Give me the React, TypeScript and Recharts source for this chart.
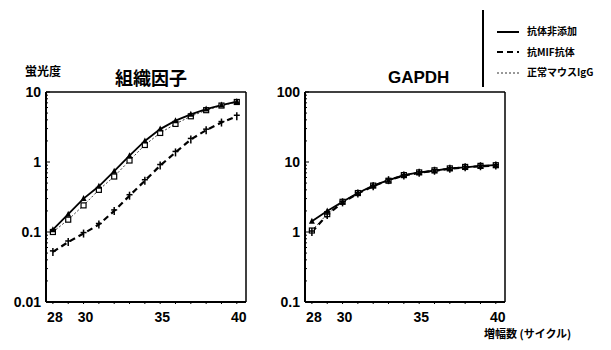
import { Line, LineChart, XAxis, YAxis } from 'recharts'

const CYCLES = [28, 29, 30, 31, 32, 33, 34, 35, 36, 37, 38, 39, 40]

// 組織因子
const TF_NONE = [0.108, 0.18, 0.3, 0.45, 0.74, 1.23, 2.0, 2.95, 3.9, 4.8, 5.7, 6.5, 7.3]
const TF_MIF = [0.052, 0.072, 0.095, 0.128, 0.2, 0.33, 0.54, 0.89, 1.37, 2.1, 2.85, 3.66, 4.5]
const TF_IGG = [0.1, 0.15, 0.24, 0.4, 0.62, 1.05, 1.75, 2.6, 3.5, 4.5, 5.5, 6.4, 7.2]

// GAPDH
const GA_NONE = [1.42, 2.0, 2.7, 3.6, 4.6, 5.5, 6.5, 7.1, 7.5, 8.1, 8.4, 8.8, 9.0]
const GA_MIF = [1.0, 1.75, 2.65, 3.55, 4.5, 5.5, 6.4, 7.0, 7.5, 8.0, 8.4, 8.7, 8.9]
const GA_IGG = [1.05, 1.8, 2.7, 3.6, 4.6, 5.4, 6.5, 7.1, 7.6, 8.1, 8.5, 8.8, 9.0]

const X_LABELS = [28, 30, 35, 40]
const LEGEND = ['抗体非添加', '抗MIF抗体', '正常マウスIgG']

const X_DOMAIN: [number, number] = [27.55, 40.6]
const FONT = '"Liberation Sans", Arial, "Noto Sans CJK JP", sans-serif'
const CJK = '"Noto Sans CJK JP", "Liberation Sans", sans-serif'

function rows(none: number[], mif: number[], igg: number[]) {
  return CYCLES.map((c, i) => ({ cycle: c, none: none[i], mif: mif[i], igg: igg[i] }))
}

function logTicks(lo: number, hi: number) {
  const out: number[] = []
  for (let d = lo; d < hi * 1.001; d *= 10) {
    for (let m = 1; m < 10; m++) {
      const v = +(d * m).toPrecision(3)
      if (v <= hi * 1.001) out.push(v)
    }
  }
  return out
}

function isDecade(v: number) {
  const l = Math.log10(v)
  return Math.abs(l - Math.round(l)) < 1e-6
}

function YTick(props: any) {
  const { x, y, payload } = props
  const v = payload.value
  const major = isDecade(v)
  return (
    <g>
      <line x1={x} x2={x + (major ? 4 : 2)} y1={y} y2={y} stroke="#000" strokeWidth={1} />
      {major && (
        <text x={x - 5} y={y + 5} textAnchor="end" fontSize={14} fontWeight="bold" fontFamily={FONT} fill="#000">
          {v}
        </text>
      )}
    </g>
  )
}

function XTick(props: any) {
  const { x, y, payload } = props
  const v = payload.value
  return (
    <g>
      <line x1={x} x2={x} y1={y} y2={y - 3} stroke="#000" strokeWidth={1} />
      {X_LABELS.includes(v) && (
        <text x={x + 2} y={y + 18} textAnchor="middle" fontSize={14} fontWeight="bold" fontFamily={FONT} fill="#000">
          {v}
        </text>
      )}
    </g>
  )
}

function TriDot(props: any) {
  const { cx, cy } = props
  if (cx == null || cy == null) return null
  return <path d={`M${cx},${cy - 3.5}L${cx + 3},${cy + 2.5}L${cx - 3},${cy + 2.5}Z`} fill="#000" />
}

function SquareDot(props: any) {
  const { cx, cy } = props
  if (cx == null || cy == null) return null
  return <rect x={cx - 2.5} y={cy - 2.5} width={5} height={5} fill="#fff" stroke="#000" strokeWidth={1.2} />
}

function BarDot(props: any) {
  const { cx, cy } = props
  if (cx == null || cy == null) return null
  return (
    <g stroke="#000" strokeWidth={1.5}>
      <line x1={cx} x2={cx} y1={cy - 4} y2={cy + 4} />
      <line x1={cx - 3} x2={cx + 3} y1={cy - 1} y2={cy - 1} />
    </g>
  )
}

function Panel({ data, domain }: { data: any[]; domain: [number, number] }) {
  return (
    <LineChart width={254} height={330} data={data} margin={{ top: 91, right: 7, bottom: 3, left: 6 }}>
      <XAxis
        dataKey="cycle"
        type="number"
        domain={X_DOMAIN}
        ticks={CYCLES}
        allowDataOverflow
        axisLine={{ stroke: '#000', strokeWidth: 2 }}
        tickLine={false}
        tickSize={0}
        tick={<XTick />}
        height={25}
        interval={0}
      />
      {/* mirrored axes give the top and right sides of the box */}
      <XAxis
        xAxisId="top"
        orientation="top"
        dataKey="cycle"
        type="number"
        domain={X_DOMAIN}
        allowDataOverflow
        tick={false}
        tickLine={false}
        height={1}
        axisLine={{ stroke: '#000', strokeWidth: 1.5 }}
      />
      <YAxis
        scale="log"
        type="number"
        domain={domain}
        ticks={logTicks(domain[0], domain[1])}
        allowDataOverflow
        axisLine={{ stroke: '#000', strokeWidth: 2 }}
        tickLine={false}
        tickSize={0}
        tickMargin={0}
        tick={<YTick />}
        width={40}
        interval={0}
      />
      <YAxis
        yAxisId="right"
        orientation="right"
        scale="log"
        type="number"
        domain={domain}
        allowDataOverflow
        tick={false}
        tickLine={false}
        width={1}
        axisLine={{ stroke: '#000', strokeWidth: 1.5 }}
      />
      <Line dataKey="igg" stroke="#333" strokeWidth={1} strokeDasharray="2 2" dot={<SquareDot />} isAnimationActive={false} />
      <Line dataKey="mif" stroke="#000" strokeWidth={2.2} strokeDasharray="6 4" dot={<BarDot />} isAnimationActive={false} />
      <Line dataKey="none" stroke="#000" strokeWidth={1.8} dot={<TriDot />} isAnimationActive={false} />
      <Line
        xAxisId="top"
        yAxisId="right"
        dataKey="none"
        stroke="none"
        strokeOpacity={0}
        dot={false}
        activeDot={false}
        legendType="none"
        isAnimationActive={false}
      />
    </LineChart>
  )
}

export default function App() {
  const text = (s: string, style: React.CSSProperties) => (
    <div key={s} style={{ position: 'absolute', whiteSpace: 'nowrap', fontWeight: 'bold', color: '#000', ...style }}>{s}</div>
  )
  return (
    <div style={{ position: 'fixed', left: 0, top: 0, width: 611, height: 350, background: '#fff', overflow: 'hidden' }}>
      <div style={{ position: 'absolute', left: 0, top: 0 }}>
        <Panel data={rows(TF_NONE, TF_MIF, TF_IGG)} domain={[0.01, 10]} />
      </div>
      <div style={{ position: 'absolute', left: 259, top: 0 }}>
        <Panel data={rows(GA_NONE, GA_MIF, GA_IGG)} domain={[0.1, 100]} />
      </div>
      {text('蛍光度', { left: 25, top: 62, fontSize: 12, fontFamily: CJK })}
      {text('組織因子', { left: 115, top: 66, fontSize: 18, fontFamily: CJK, lineHeight: '22px' })}
      {text('GAPDH', { left: 388, top: 68, fontSize: 17, fontFamily: FONT, lineHeight: '20px' })}
      {text('増幅数 (サイクル)', { left: 484, top: 325, fontSize: 11, fontFamily: CJK })}
      <div style={{ position: 'absolute', left: 482, top: 10, width: 1.5, height: 77, background: '#000' }} />
      <svg style={{ position: 'absolute', left: 495, top: 22 }} width={30} height={60}>
        <line x1={2} x2={24} y1={10} y2={10} stroke="#000" strokeWidth={2} />
        <line x1={2} x2={24} y1={30} y2={30} stroke="#000" strokeWidth={2} strokeDasharray="6 4" />
        <line x1={2} x2={24} y1={51} y2={51} stroke="#333" strokeWidth={1} strokeDasharray="2 2" />
      </svg>
      {LEGEND.map((s, i) => text(s, { left: 527, top: 24 + i * 20.5, fontSize: 10, fontFamily: CJK, lineHeight: '14px' }))}
    </div>
  )
}
